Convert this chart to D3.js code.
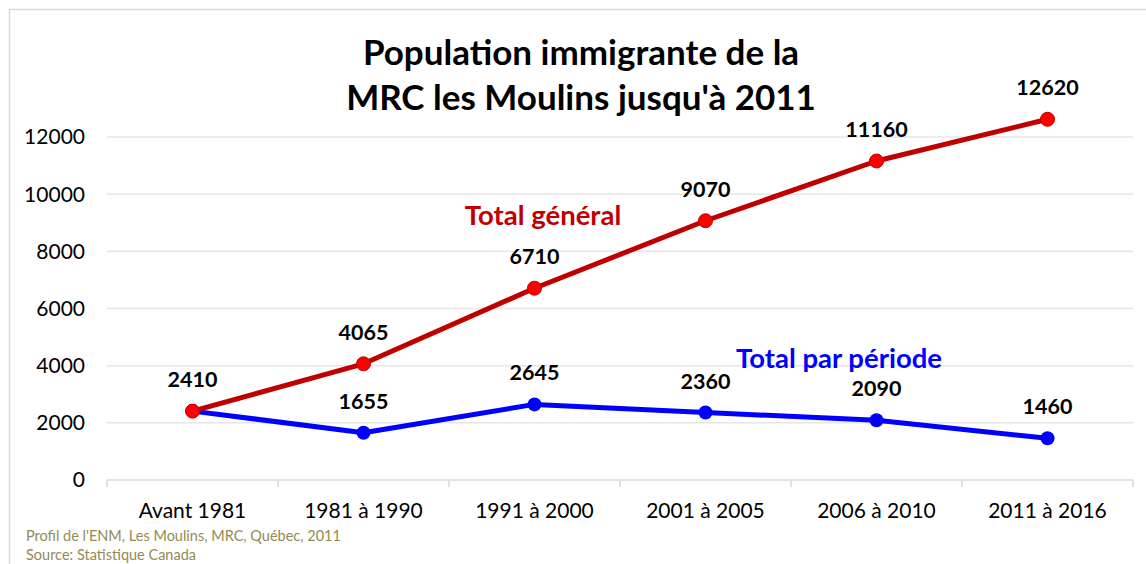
<!DOCTYPE html>
<html>
<head>
<meta charset="utf-8">
<script src="https://cdn.jsdelivr.net/npm/d3@7"></script>
<style>
  body { margin: 0; background: #fff; }
  svg { display: block; font-family: Lato, "Open Sans", sans-serif; }
</style>
</head>
<body>
<div id="chart"></div>
<script>
// data
const periods = ["Avant 1981", "1981 à 1990", "1991 à 2000", "2001 à 2005", "2006 à 2010", "2011 à 2016"];
const totalGeneral = [2410, 4065, 6710, 9070, 11160, 12620];
const totalPeriode = [2410, 1655, 2645, 2360, 2090, 1460];
const yTicks = [0, 2000, 4000, 6000, 8000, 10000, 12000];

const width = 1146, height = 564;
const margin = { left: 107, right: 13, top: 137, bottom: 84 };

let svg = d3.select('#chart').append('svg')
    .attr('width', width)
    .attr('height', height);

// chart frame
svg.append('rect')
    .attr('x', 9.5).attr('y', 9.5)
    .attr('width', width + 20).attr('height', height + 20)
    .attr('fill', 'none')
    .attr('stroke', '#d9d9d9')
    .attr('stroke-width', 1.5);

let x = d3.scaleBand()
    .domain(periods)
    .range([margin.left, width - margin.right]);

let y = d3.scaleLinear()
    .domain([0, 12000])
    .range([height - margin.bottom, margin.top]);

// gridlines
svg.append('g')
    .selectAll('line')
    .data(yTicks.filter(d => d > 0))
    .enter().append('line')
    .attr('x1', margin.left).attr('x2', width - margin.right)
    .attr('y1', d => y(d)).attr('y2', d => y(d))
    .attr('stroke', '#e6e6e6')
    .attr('stroke-width', 1.5);

// y labels
svg.append('g')
    .selectAll('text')
    .data(yTicks)
    .enter().append('text')
    .attr('x', 85)
    .attr('y', d => y(d))
    .attr('dy', '0.35em')
    .attr('text-anchor', 'end')
    .style('font-size', '21px')
    .attr('fill', '#000')
    .text(d => d);

// x axis
let xAxis = svg.append('g')
    .attr('transform', `translate(0,${y(0)})`);
xAxis.append('line')
    .attr('x1', margin.left).attr('x2', width - margin.right)
    .attr('stroke', '#d9d9d9').attr('stroke-width', 1.5);
xAxis.selectAll('.tick')
    .data(periods.concat(['end']))
    .enter().append('line')
    .attr('x1', (d, i) => margin.left + i * x.bandwidth())
    .attr('x2', (d, i) => margin.left + i * x.bandwidth())
    .attr('y1', 0).attr('y2', 7)
    .attr('stroke', '#d9d9d9').attr('stroke-width', 1.5);
xAxis.selectAll('text')
    .data(periods)
    .enter().append('text')
    .attr('x', d => x(d) + x.bandwidth() / 2)
    .attr('y', 38)
    .attr('text-anchor', 'middle')
    .style('font-size', '21px')
    .attr('fill', '#000')
    .text(d => d);

let cx = (d, i) => x(periods[i]) + x.bandwidth() / 2;
let line = d3.line().x(cx).y(d => y(d));

// series: Total par période (blue)
svg.append('path')
    .datum(totalPeriode)
    .attr('d', line)
    .attr('fill', 'none')
    .attr('stroke', '#0000ff')
    .attr('stroke-width', 5)
    .attr('stroke-linejoin', 'round');
svg.append('g').selectAll('circle')
    .data(totalPeriode)
    .enter().append('circle')
    .attr('cx', cx).attr('cy', d => y(d))
    .attr('r', 7)
    .attr('fill', '#0000ff');

// series: Total général (red)
svg.append('path')
    .datum(totalGeneral)
    .attr('d', line)
    .attr('fill', 'none')
    .attr('stroke', '#c00000')
    .attr('stroke-width', 5)
    .attr('stroke-linejoin', 'round');
svg.append('g').selectAll('circle')
    .data(totalGeneral)
    .enter().append('circle')
    .attr('cx', cx).attr('cy', d => y(d))
    .attr('r', 7)
    .attr('fill', '#ff0000')
    .attr('stroke', '#c00000')
    .attr('stroke-width', 1);

// data labels (first point shared)
let labels = totalGeneral.map((d, i) => ({ v: d, i: i }))
    .concat(totalPeriode.map((d, i) => ({ v: d, i: i })).slice(1));
svg.append('g').selectAll('text')
    .data(labels)
    .enter().append('text')
    .attr('x', d => cx(d.v, d.i))
    .attr('y', d => y(d.v) - 24)
    .attr('text-anchor', 'middle')
    .style('font-size', '21.5px')
    .style('font-weight', 'bold')
    .attr('fill', '#000')
    .text(d => d.v);

// series names
svg.append('text')
    .attr('x', 543).attr('y', 225)
    .attr('text-anchor', 'middle')
    .style('font-size', '27.5px').style('font-weight', 'bold')
    .attr('fill', '#c00000')
    .text('Total général');
svg.append('text')
    .attr('x', 839).attr('y', 368)
    .attr('text-anchor', 'middle')
    .style('font-size', '27.5px').style('font-weight', 'bold')
    .attr('fill', '#0000ff')
    .text('Total par période');

// title
let title = svg.append('text')
    .attr('text-anchor', 'middle')
    .style('font-size', '35px').style('font-weight', 'bold')
    .attr('fill', '#000');
title.append('tspan').attr('x', 581).attr('y', 65).text('Population immigrante de la');
title.append('tspan').attr('x', 581).attr('y', 110).text("MRC les Moulins jusqu'à 2011");

// source
let src = svg.append('text')
    .style('font-size', '14.5px')
    .attr('fill', '#948a54');
src.append('tspan').attr('x', 26).attr('y', 541).text("Profil de l'ENM, Les Moulins, MRC, Québec, 2011");
src.append('tspan').attr('x', 26).attr('y', 560).text('Source: Statistique Canada');
</script>
</body>
</html>
